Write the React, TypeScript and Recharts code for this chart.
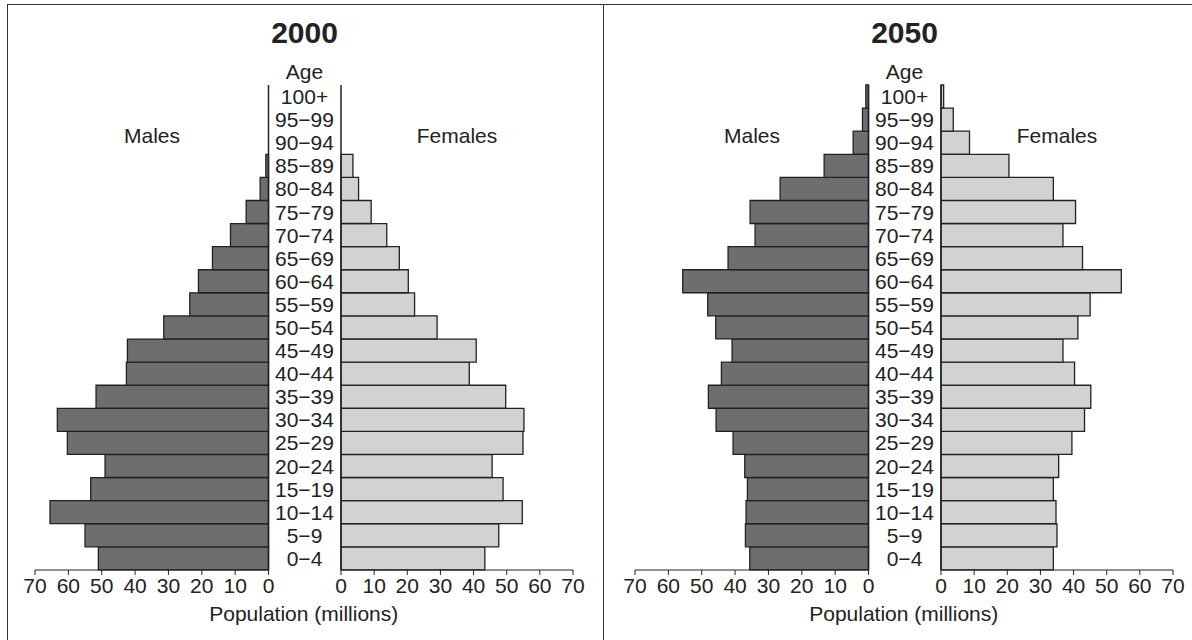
import React from "react";
import { BarChart, Bar, XAxis, YAxis, ReferenceLine } from "recharts";

const ages = [
  "0−4", "5−9", "10−14", "15−19", "20−24", "25−29", "30−34", "35−39", "40−44", "45−49",
  "50−54", "55−59", "60−64", "65−69", "70−74", "75−79", "80−84", "85−89", "90−94", "95−99", "100+",
];

const males2000 = [51, 55, 65.5, 53.3, 49, 60.3, 63.3, 51.7, 42.6, 42.3, 31.4, 23.6, 21, 16.8, 11.4, 6.7, 2.5, 0.8, 0, 0, 0];
const females2000 = [43.4, 47.6, 54.7, 48.9, 45.6, 54.9, 55.2, 49.7, 38.7, 40.8, 29, 22.2, 20.3, 17.6, 13.8, 9.1, 5.3, 3.6, 0, 0, 0];
const males2050 = [35.6, 36.9, 36.7, 36.3, 37.1, 40.6, 45.7, 48, 44.1, 40.9, 45.8, 48.2, 55.7, 42.1, 34, 35.5, 26.5, 13.3, 4.6, 1.8, 0.8];
const females2050 = [33.9, 35, 34.7, 33.9, 35.5, 39.5, 43.3, 45.2, 40.3, 36.8, 41.3, 45, 54.4, 42.7, 36.8, 40.6, 33.9, 20.5, 8.6, 3.7, 0.8];

const ticks = [0, 10, 20, 30, 40, 50, 60, 70];

const FONT = "'Liberation Sans', Arial, Helvetica, sans-serif";
const INK = "#222";
const MALE_FILL = "#6d6e70";
const FEMALE_FILL = "#d1d2d4";

// plot geometry inside a 600px panel
const TOP = 85;
const BOTTOM = 570;
const MALE_L = 35;
const MALE_R = 268.5;
const FEM_L = 340.5;
const FEM_R = 572.5;
const H = 640;
const AXIS_H = 30;

function AgeTick(props: any) {
  const { y, payload, center } = props;
  return (
    <text x={center} y={y} textAnchor="middle" dominantBaseline="central" fill={INK} fontSize={21} fontFamily={FONT}>
      {payload.value}
    </text>
  );
}

function Label({ x, y, children, bold, size }: { x: number; y: number; children: React.ReactNode; bold?: boolean; size?: number }) {
  return (
    <div
      style={{
        position: "absolute",
        left: x,
        top: y,
        transform: "translate(-50%, -50%)",
        fontSize: size || 21,
        fontWeight: bold ? 700 : 400,
        color: INK,
        whiteSpace: "nowrap",
        lineHeight: 1,
      }}
    >
      {children}
    </div>
  );
}

function Panel({ left, year, males, females }: { left: number; year: string; males: number[]; females: number[] }) {
  const maleData = ages.map((age, i) => ({ age, value: males[i] }));
  const femaleData = ages.map((age, i) => ({ age, value: females[i] }));
  const center = (MALE_R + FEM_L) / 2;
  const femOffset = FEM_L - 10;
  const axisTick = { fill: INK, fontSize: 21, fontFamily: FONT };

  return (
    <div style={{ position: "absolute", left, top: 0, width: 600, height: H }}>
      <div style={{ position: "absolute", left: 0, top: 0 }}>
        <BarChart
          width={FEM_L}
          height={H}
          data={maleData}
          layout="vertical"
          barCategoryGap={0}
          margin={{ top: TOP, right: 0, bottom: H - BOTTOM - AXIS_H, left: MALE_L }}
        >
          <XAxis
            type="number"
            domain={[0, 70]}
            ticks={ticks}
            reversed
            height={AXIS_H}
            tick={axisTick}
            tickSize={5}
            tickMargin={3}
            stroke={INK}
            interval={0}
          />
          <YAxis
            type="category"
            dataKey="age"
            orientation="right"
            reversed
            width={FEM_L - MALE_R}
            axisLine={false}
            tickLine={false}
            interval={0}
            tick={<AgeTick center={center} />}
          />
          <Bar dataKey="value" fill={MALE_FILL} stroke={INK} strokeWidth={1.3} isAnimationActive={false} />
          <ReferenceLine x={0} stroke={INK} strokeWidth={1.5} />
        </BarChart>
      </div>
      <div style={{ position: "absolute", left: femOffset, top: 0 }}>
        <BarChart
          width={600 - femOffset}
          height={H}
          data={femaleData}
          layout="vertical"
          barCategoryGap={0}
          margin={{ top: TOP, right: 600 - FEM_R, bottom: H - BOTTOM - AXIS_H, left: FEM_L - femOffset }}
        >
          <XAxis
            type="number"
            domain={[0, 70]}
            ticks={ticks}
            height={AXIS_H}
            tick={axisTick}
            tickSize={5}
            tickMargin={3}
            stroke={INK}
            interval={0}
          />
          <YAxis type="category" dataKey="age" reversed hide />
          <Bar dataKey="value" fill={FEMALE_FILL} stroke={INK} strokeWidth={1.3} isAnimationActive={false} />
          <ReferenceLine x={0} stroke={INK} strokeWidth={1.5} />
        </BarChart>
      </div>
      <Label x={center} y={33} bold size={30}>{year}</Label>
      <Label x={center} y={71}>Age</Label>
      <Label x={152} y={135}>Males</Label>
      <Label x={457} y={135}>Females</Label>
      <Label x={(MALE_L + FEM_R) / 2} y={613}>Population (millions)</Label>
    </div>
  );
}

export default function App() {
  return (
    <div
      style={{
        position: "absolute",
        left: 0,
        top: 0,
        width: 1192,
        height: H,
        background: "#fff",
        fontFamily: FONT,
        overflow: "hidden",
      }}
    >
      <div style={{ position: "absolute", left: 7, top: 4, width: 1200, height: 700, borderLeft: "1.5px solid #333", borderTop: "1.5px solid #333" }} />
      <div style={{ position: "absolute", left: 603, top: 4, width: 0, height: 700, borderLeft: "1.5px solid #333" }} />
      <Panel left={0} year="2000" males={males2000} females={females2000} />
      <Panel left={600} year="2050" males={males2050} females={females2050} />
    </div>
  );
}
